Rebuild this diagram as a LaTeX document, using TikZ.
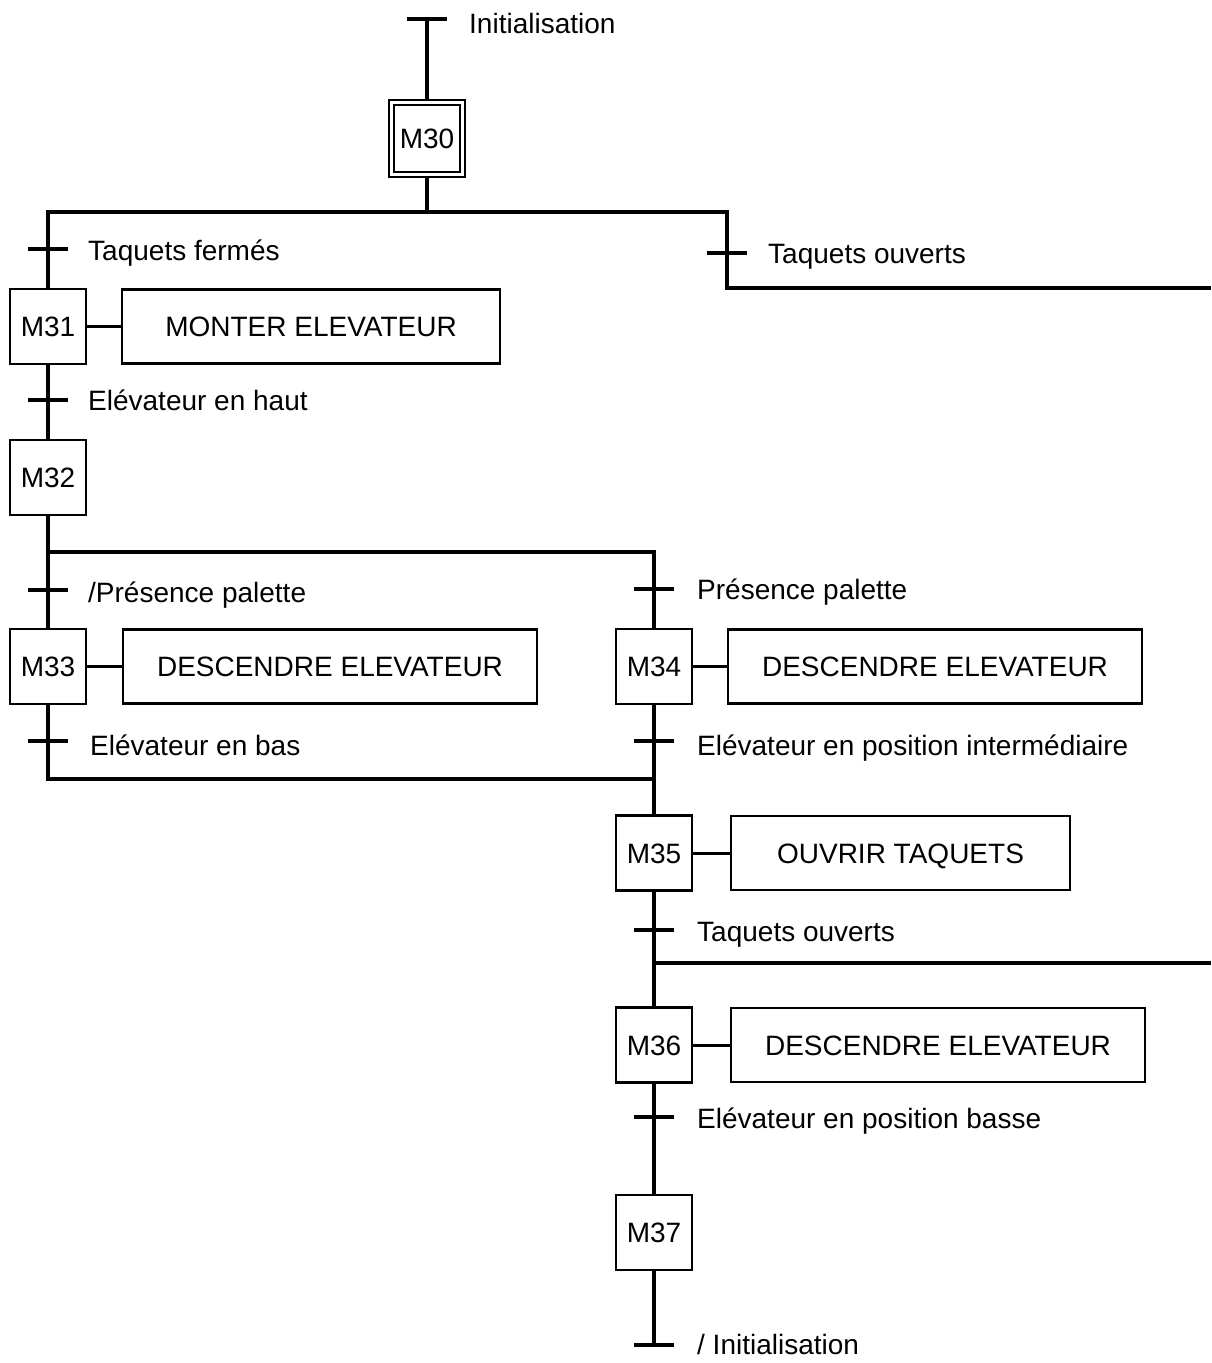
\documentclass[tikz,border=0pt]{standalone}
\usepackage{fontspec}
\setmainfont{Liberation Sans}
\newcommand\grafcetfont{\fontsize{28}{34}\selectfont}
\begin{document}
\begin{tikzpicture}[x=1pt,y=-1pt,
  flow/.style={line width=3.2pt, line join=miter},
  tickline/.style={line width=3.2pt},
  stepbox/.style={draw, line width=2.4pt, minimum width=76pt, minimum height=75pt, inner sep=0pt, text height=20pt, text depth=0pt, font=\grafcetfont},
  actbox/.style={draw, line width=2.4pt, minimum height=74pt, inner sep=0pt, text height=20pt, text depth=0pt, font=\grafcetfont},
  lbl/.style={anchor=base west, inner sep=0pt, font=\grafcetfont}]
\useasboundingbox (0,0) rectangle (1211,1363);

% steps
\node[stepbox, minimum height=77pt] (m30) at (427,138.5) {M30};
\draw[line width=2.4pt] ([shift={(6,6)}]m30.north west) rectangle ([shift={(-6,-6)}]m30.south east);
\node[stepbox] (m31) at (48,326.5) {M31};
\node[stepbox] (m32) at (48,477.5) {M32};
\node[stepbox] (m33) at (48,666.5) {M33};
\node[stepbox] (m34) at (654,666.5) {M34};
\node[stepbox] (m35) at (654,853) {M35};
\node[stepbox] (m36) at (654,1045) {M36};
\node[stepbox] (m37) at (654,1232.5) {M37};

% actions
\node[actbox, minimum width=378pt] (a31) at (311,326.5) {MONTER ELEVATEUR};
\node[actbox, minimum width=414pt] (a33) at (330,666.5) {DESCENDRE ELEVATEUR};
\node[actbox, minimum width=414pt] (a34) at (935,666.5) {DESCENDRE ELEVATEUR};
\node[actbox, minimum width=339pt] (a35) at (900.5,853) {OUVRIR TAQUETS};
\node[actbox, minimum width=414pt] (a36) at (938,1045) {DESCENDRE ELEVATEUR};
\foreach \s in {31,33,34,35,36} \draw[line width=3pt] (m\s.east) -- (a\s.west);

% junction points
\coordinate (top) at (427,19);
\coordinate (d1) at (427,212);
\coordinate (d1l) at (48,212);
\coordinate (d1r) at (727,212);
\coordinate (d1rr) at (727,288);
\coordinate (out1) at (1211,288);
\coordinate (d2) at (48,552);
\coordinate (d2r) at (654,552);
\coordinate (c1) at (48,779);
\coordinate (c1r) at (654,779);
\coordinate (d3) at (654,963);
\coordinate (out2) at (1211,963);
\coordinate (bot) at (654,1345);

% connectors
\draw[flow] (top) -- (m30.north);
\draw[flow] (m30.south) -- (d1);
\draw[flow] (m31.north) -- (d1l) -- (d1r) -- (d1rr) -- (out1);
\draw[flow] (m31.south) -- (m32.north);
\draw[flow] (m32.south) -- (d2);
\draw[flow] (m33.north) -- (d2) -- (d2r) -- (m34.north);
\draw[flow] (m33.south) -- (c1) -- (c1r);
\draw[flow] (m34.south) -- (m35.north);
\draw[flow] (m35.south) -- (m36.north);
\draw[flow] (d3) -- (out2);
\draw[flow] (m36.south) -- (m37.north);
\draw[flow] (m37.south) -- (bot);

% transitions
\foreach \x/\y in {427/19, 48/249, 727/253, 48/400, 48/590, 654/589, 48/741, 654/741, 654/930, 654/1117, 654/1345}
  \draw[tickline] (\x-20,\y) -- (\x+20,\y);

% transition labels
\node[lbl] (t0) at (469,33) {Initialisation};
\node[lbl] (t1) at (88,260) {Taquets fermés};
\node[lbl] (t2) at (768,263) {Taquets ouverts};
\node[lbl] (t3) at (88,410) {Elévateur en haut};
\node[lbl] (t4) at (88,602) {/Présence palette};
\node[lbl] (t5) at (697,599) {Présence palette};
\node[lbl] (t6) at (90,755) {Elévateur en bas};
\node[lbl] (t7) at (697,755) {Elévateur en position intermédiaire};
\node[lbl] (t8) at (697,941) {Taquets ouverts};
\node[lbl] (t9) at (697,1128) {Elévateur en position basse};
\node[lbl] (t10) at (697,1354) {/ Initialisation};
\end{tikzpicture}
\end{document}
